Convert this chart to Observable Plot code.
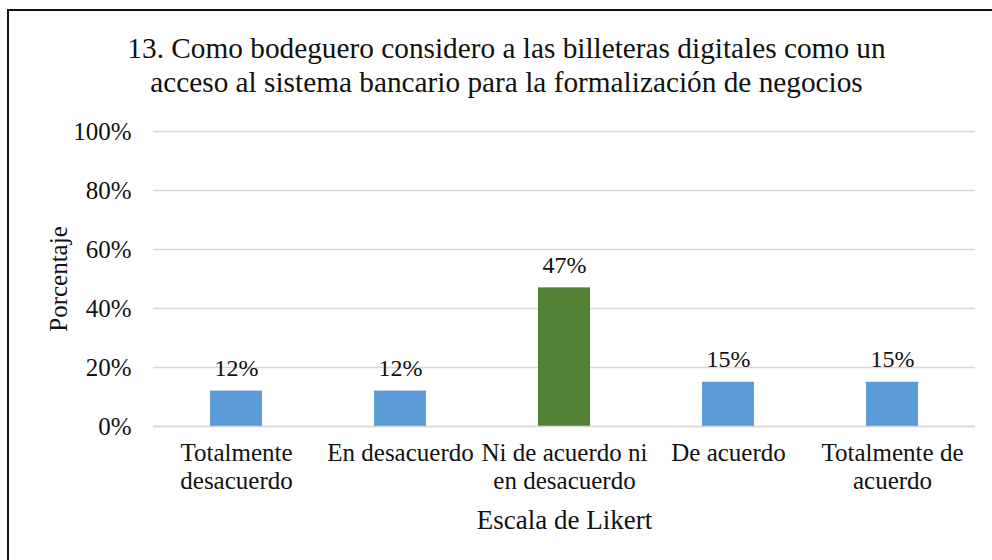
<!DOCTYPE html>
<html>
<head>
<meta charset="utf-8">
<script src="https://cdn.jsdelivr.net/npm/d3@7"></script>
<script src="https://cdn.jsdelivr.net/npm/@observablehq/plot@0.6"></script>
<style>
  html, body { margin: 0; padding: 0; background: #fff; }
  #wrap { position: relative; width: 992px; height: 560px; overflow: hidden; }
  #frame { position: absolute; left: 7px; top: 9px; width: 1000px; height: 600px; border-left: 2px solid #111; border-top: 2px solid #111; box-sizing: border-box; }
  #chart { position: absolute; left: 0; top: 0; }
</style>
</head>
<body>
<div id="wrap">
  <div id="chart"></div>
  <div id="frame"></div>
</div>
<script>
const titleText = "13. Como bodeguero considero a las billeteras digitales como un\nacceso al sistema bancario para la formalización de negocios";
const categories = ["Totalmente desacuerdo", "En desacuerdo", "Ni de acuerdo ni en desacuerdo", "De acuerdo", "Totalmente de acuerdo"];
const tickLabels = ["Totalmente\ndesacuerdo", "En desacuerdo", "Ni de acuerdo ni\nen desacuerdo", "De acuerdo", "Totalmente de\nacuerdo"];
const values = [0.12, 0.12, 0.47, 0.15, 0.15];
const barColors = ["#5B9BD5", "#5B9BD5", "#548235", "#5B9BD5", "#5B9BD5"];
const yTicks = [0, 0.2, 0.4, 0.6, 0.8, 1.0];
const yLabel = "Porcentaje";
const xLabel = "Escala de Likert";

const FONT = "Liberation Serif, Times New Roman, serif";
const data = categories.map((c, i) => ({cat: c, value: values[i], color: barColors[i]}));
const labelOf = new Map(categories.map((c, i) => [c, tickLabels[i]]));

const chart = Plot.plot({
  width: 992,
  height: 560,
  marginTop: 131,
  marginBottom: 134,
  marginLeft: 153,
  marginRight: 17,
  style: {fontFamily: FONT, fontSize: "25px", color: "#111", background: "transparent"},
  x: {domain: categories, paddingInner: 0.684, paddingOuter: 0.342},
  y: {domain: [0, 1]},
  marks: [
    Plot.gridY(yTicks, {stroke: "#d9d9d9", strokeOpacity: 1, strokeWidth: 1.5}),
    Plot.barY(data, {x: "cat", y: "value", fill: "color"}),
    Plot.ruleY([0], {stroke: "#d9d9d9", strokeWidth: 1.5}),
    Plot.text(data, {x: "cat", y: "value", text: d => d3.format(".0%")(d.value), dy: -15, lineAnchor: "bottom", fontSize: 24, fontFamily: FONT, fill: "#111"}),
    Plot.axisY({ticks: yTicks, tickFormat: d3.format(".0%"), tickSize: 0, tickPadding: 22, fontSize: 25, fontFamily: FONT, label: null}),
    Plot.axisX({tickFormat: d => labelOf.get(d), tickSize: 0, tickPadding: 15, fontSize: 25, fontFamily: FONT, lineHeight: 1.12, label: null}),
    Plot.text([yLabel], {frameAnchor: "left", dx: -95, rotate: -90, text: d => d, fontSize: 25, fontFamily: FONT, fill: "#111", lineAnchor: "middle", textAnchor: "middle"}),
    Plot.text([xLabel], {frameAnchor: "bottom", dy: 94, text: d => d, fontSize: 27, fontFamily: FONT, fill: "#111", lineAnchor: "middle"}),
    Plot.text([titleText], {frameAnchor: "top", dx: -58, dy: -98, text: d => d, fontSize: 29.3, fontFamily: FONT, fill: "#111", lineAnchor: "top", lineHeight: 1.16})
  ]
});
document.getElementById("chart").appendChild(chart);
</script>
</body>
</html>
